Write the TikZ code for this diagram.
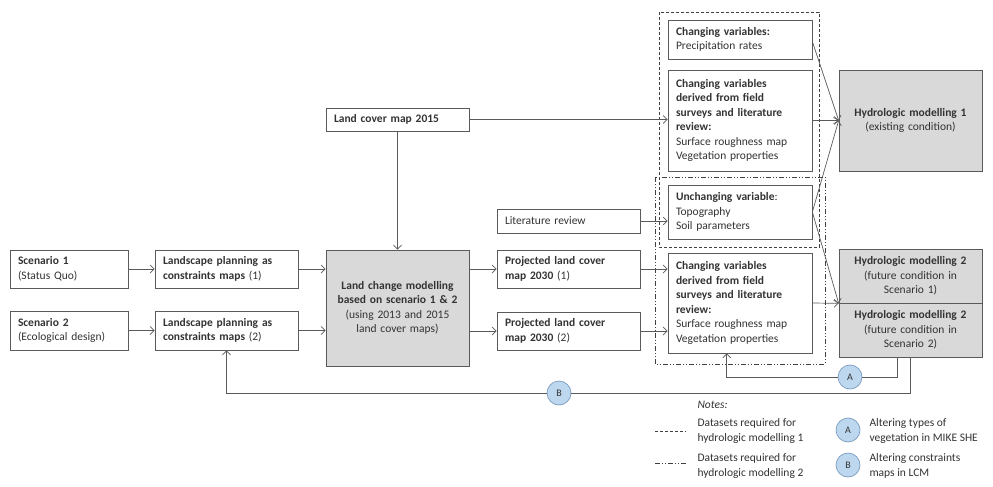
\documentclass[tikz,border=0pt]{standalone}
\usepackage{fontspec}
\setmainfont{Carlito}
\usepackage{tikz}
\usetikzlibrary{arrows.meta}

\definecolor{linegray}{HTML}{5A5A5A}
\definecolor{textgray}{HTML}{333333}
\definecolor{boxgray}{HTML}{D9D9D9}
\definecolor{tagfill}{HTML}{BDD7EE}
\definecolor{tagline}{HTML}{7A9CC0}

\begin{document}
\begin{tikzpicture}[x=1pt, y=-1pt,
  every node/.style={font=\fontsize{11.5}{14.5}\selectfont, text=textgray},
  box/.style={draw=linegray, line width=0.7pt, fill=white, align=left, text width=127pt, inner xsep=8pt, inner ysep=0pt},
  grey box/.style={box, fill=boxgray, align=center},
  link/.style={draw=linegray, line width=0.7pt, -{Straight Barb[length=4pt,width=8pt]}},
  wire/.style={draw=linegray, line width=0.7pt},
  tag/.style={circle, draw=tagline, fill=tagfill, line width=0.7pt, minimum size=24pt, inner sep=0pt, font=\fontsize{10}{11}\selectfont},
  set one/.style={draw=black!75, line width=0.6pt, dash pattern=on 3pt off 2pt},
  set two/.style={draw=black!75, line width=0.6pt, dash pattern=on 5pt off 2pt on 1pt off 2pt on 1pt off 2pt}]

\useasboundingbox (0,0) rectangle (993,487);

% Dataset groups
\draw[set one] (659,12) rectangle (819,247);
\draw[set two] (655,177) rectangle (825,364);

% Scenarios
\node[box, text width=102pt, minimum height=38pt] (scen1) at (69,269) {\textbf{Scenario 1}\\(Status Quo)};
\node[box, text width=102pt, minimum height=39pt] (scen2) at (69,330.5) {\textbf{Scenario 2}\\(Ecological design)};
\node[box, minimum height=38pt] (plan1) at (226.5,269) {\textbf{Landscape planning as}\\\textbf{constraints maps} (1)};
\node[box, minimum height=39pt] (plan2) at (226.5,330.5) {\textbf{Landscape planning as}\\\textbf{constraints maps} (2)};

% Land change modelling
\node[box, minimum height=23pt] (lc15) at (397.5,119.5) {\textbf{Land cover map 2015}};
\node[grey box, minimum height=116pt] (lcm) at (397.5,308) {\textbf{Land change modelling}\\\textbf{based on scenario 1 \& 2}\\(using 2013 and 2015\\land cover maps)};
\node[box, minimum height=24pt] (lit) at (568.5,221) {Literature review};
\node[box, minimum height=38pt] (proj1) at (568.5,269) {\textbf{Projected land cover}\\\textbf{map 2030} (1)};
\node[box, minimum height=38pt] (proj2) at (568.5,331) {\textbf{Projected land cover}\\\textbf{map 2030} (2)};

% Datasets
\node[box, text width=128pt, minimum height=39pt] (cv) at (740,39.5) {\textbf{Changing variables:}\\Precipitation rates};
\node[box, text width=128pt, minimum height=101pt] (cvd1) at (740,120.5) {\textbf{Changing variables}\\\textbf{derived from field}\\\textbf{surveys and literature}\\\textbf{review:}\\Surface roughness map\\Vegetation properties};
\node[box, text width=128pt, minimum height=54pt] (uv) at (740,212) {\textbf{Unchanging variable}:\\Topography\\Soil parameters};
\node[box, text width=128pt, minimum height=100pt] (cvd2) at (740,303) {\textbf{Changing variables}\\\textbf{derived from field}\\\textbf{surveys and literature}\\\textbf{review:}\\Surface roughness map\\Vegetation properties};

% Hydrologic models
\node[grey box, minimum height=101pt] (hm1) at (910.5,120.5) {\textbf{Hydrologic modelling 1}\\(existing condition)};
\node[grey box, minimum height=54pt] (hm2a) at (910.5,276) {\textbf{Hydrologic modelling 2}\\(future condition in\\Scenario 1)};
\node[grey box, minimum height=54pt] (hm2b) at (910.5,330) {\textbf{Hydrologic modelling 2}\\(future condition in\\Scenario 2)};

% Arrows
\draw[link] (scen1) -- (plan1);
\draw[link] (scen2) -- (plan2);
\draw[link] (plan1.east) -- (plan1.east -| lcm.west);
\draw[link] (plan2.east) -- (plan2.east -| lcm.west);
\draw[link] (lcm.east |- proj1.west) -- (proj1.west);
\draw[link] (lcm.east |- proj2.west) -- (proj2.west);
\draw[link] (lc15) -- (lcm);
\draw[link] (lc15.east) -- (lc15.east -| cvd1.west);
\draw[link] (lit.east) -- (lit.east -| uv.west);
\draw[link] (proj1.east) -- (proj1.east -| cvd2.west);
\draw[link] (proj2.east) -- (proj2.east -| cvd2.west);
\draw[link] ([yshift=-2pt]cv.east) -- (hm1.west);
\draw[link] (cvd1) -- (hm1);
\draw[link] (uv.east) -- (hm1.west);
\draw[link] (uv.east) -- (hm2a.south west);
\draw[link] (cvd2.east) -- (hm2a.south west);

% Feedback loops
\node[tag] (tagA) at (850,377) {A};
\node[tag] (tagB) at (559,393) {B};
\draw[wire] ([xshift=59pt]hm2b.south west) |- (tagA);
\draw[link] (tagA) -| ([xshift=59pt]cvd2.south west);
\draw[wire] ([xshift=72pt]hm2b.south west) |- (tagB);
\draw[link] (tagB) -| (plan2.south);

% Notes
\node[anchor=west, font=\fontsize{11.5}{14}\selectfont\itshape] (notes) at (694,405) {Notes:};
\draw[set one] (655,431) -- (686,431);
\node[anchor=west, align=left] (note1) at (694,431) {Datasets required for\\hydrologic modelling 1};
\draw[set two] (655,463) -- (686,463);
\node[anchor=west, align=left] (note2) at (694,466) {Datasets required for\\hydrologic modelling 2};
\node[tag] (keyA) at (848,430) {A};
\node[anchor=west, align=left] (noteA) at (866,431) {Altering types of\\vegetation in MIKE SHE};
\node[tag] (keyB) at (848,465) {B};
\node[anchor=west, align=left] (noteB) at (866,466) {Altering constraints\\maps in LCM};

\end{tikzpicture}
\end{document}
